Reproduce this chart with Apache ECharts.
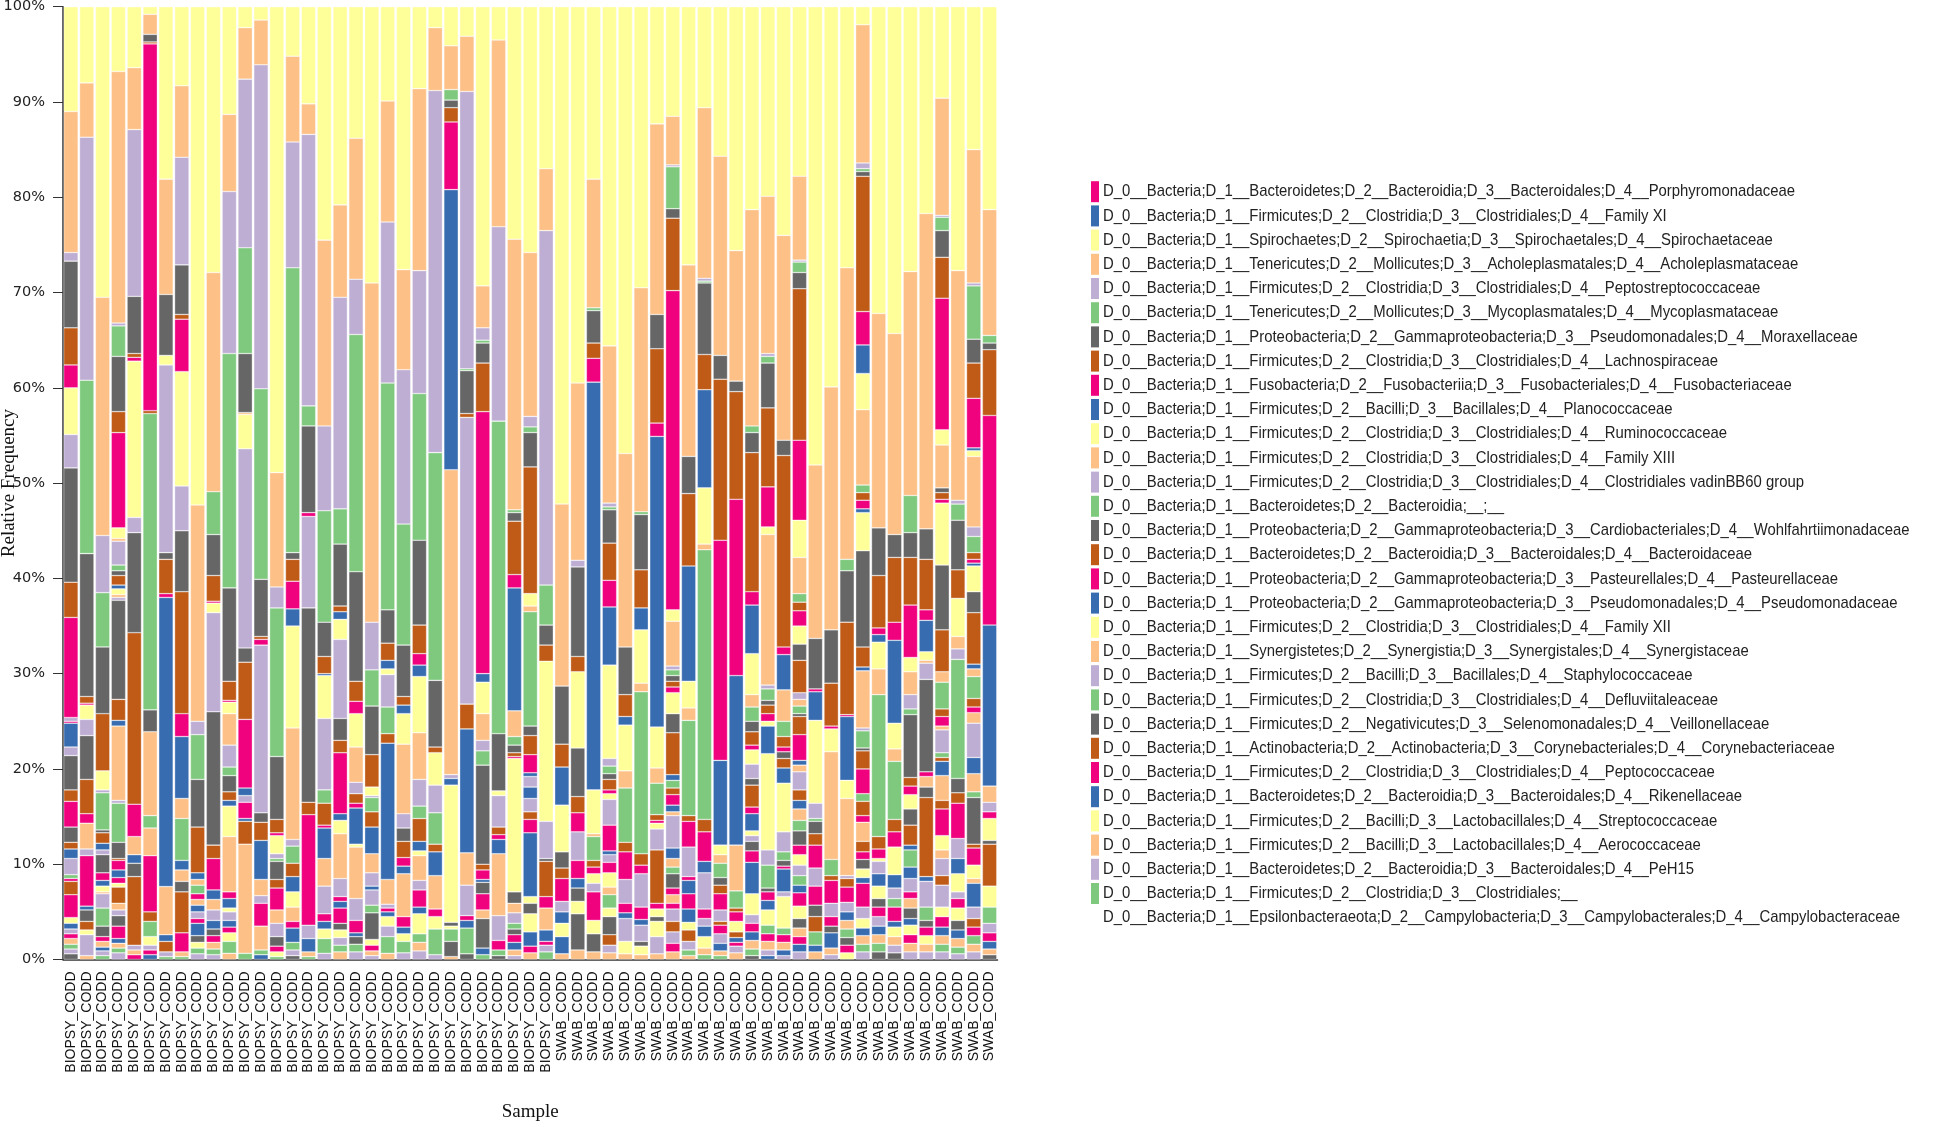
<!DOCTYPE html>
<html>
<head>
<meta charset="utf-8">
<title>Relative frequency by sample</title>
<script src="https://cdn.jsdelivr.net/npm/echarts@6/dist/echarts.min.js"></script>
<style>
  html, body { margin: 0; padding: 0; background: #fff; }
  #chart { width: 1946px; height: 1127px; }
</style>
</head>
<body>
<div id="chart"></div>
<script>
const Y = 0, O = 1, P = 2, G = 3, K = 4, N = 5, M = 6, B = 7;
const colors = ['#ffff99', '#fdc086', '#beaed4', '#7fc97f', '#666666', '#bf5b17', '#f0027f', '#386cb0'];

const taxa = [
  'D_0__Bacteria;D_1__Bacteroidetes;D_2__Bacteroidia;D_3__Bacteroidales;D_4__Porphyromonadaceae',
  'D_0__Bacteria;D_1__Firmicutes;D_2__Clostridia;D_3__Clostridiales;D_4__Family XI',
  'D_0__Bacteria;D_1__Spirochaetes;D_2__Spirochaetia;D_3__Spirochaetales;D_4__Spirochaetaceae',
  'D_0__Bacteria;D_1__Tenericutes;D_2__Mollicutes;D_3__Acholeplasmatales;D_4__Acholeplasmataceae',
  'D_0__Bacteria;D_1__Firmicutes;D_2__Clostridia;D_3__Clostridiales;D_4__Peptostreptococcaceae',
  'D_0__Bacteria;D_1__Tenericutes;D_2__Mollicutes;D_3__Mycoplasmatales;D_4__Mycoplasmataceae',
  'D_0__Bacteria;D_1__Proteobacteria;D_2__Gammaproteobacteria;D_3__Pseudomonadales;D_4__Moraxellaceae',
  'D_0__Bacteria;D_1__Firmicutes;D_2__Clostridia;D_3__Clostridiales;D_4__Lachnospiraceae',
  'D_0__Bacteria;D_1__Fusobacteria;D_2__Fusobacteriia;D_3__Fusobacteriales;D_4__Fusobacteriaceae',
  'D_0__Bacteria;D_1__Firmicutes;D_2__Bacilli;D_3__Bacillales;D_4__Planococcaceae',
  'D_0__Bacteria;D_1__Firmicutes;D_2__Clostridia;D_3__Clostridiales;D_4__Ruminococcaceae',
  'D_0__Bacteria;D_1__Firmicutes;D_2__Clostridia;D_3__Clostridiales;D_4__Family XIII',
  'D_0__Bacteria;D_1__Firmicutes;D_2__Clostridia;D_3__Clostridiales;D_4__Clostridiales vadinBB60 group',
  'D_0__Bacteria;D_1__Bacteroidetes;D_2__Bacteroidia;__;__',
  'D_0__Bacteria;D_1__Proteobacteria;D_2__Gammaproteobacteria;D_3__Cardiobacteriales;D_4__Wohlfahrtiimonadaceae',
  'D_0__Bacteria;D_1__Bacteroidetes;D_2__Bacteroidia;D_3__Bacteroidales;D_4__Bacteroidaceae',
  'D_0__Bacteria;D_1__Proteobacteria;D_2__Gammaproteobacteria;D_3__Pasteurellales;D_4__Pasteurellaceae',
  'D_0__Bacteria;D_1__Proteobacteria;D_2__Gammaproteobacteria;D_3__Pseudomonadales;D_4__Pseudomonadaceae',
  'D_0__Bacteria;D_1__Firmicutes;D_2__Clostridia;D_3__Clostridiales;D_4__Family XII',
  'D_0__Bacteria;D_1__Synergistetes;D_2__Synergistia;D_3__Synergistales;D_4__Synergistaceae',
  'D_0__Bacteria;D_1__Firmicutes;D_2__Bacilli;D_3__Bacillales;D_4__Staphylococcaceae',
  'D_0__Bacteria;D_1__Firmicutes;D_2__Clostridia;D_3__Clostridiales;D_4__Defluviitaleaceae',
  'D_0__Bacteria;D_1__Firmicutes;D_2__Negativicutes;D_3__Selenomonadales;D_4__Veillonellaceae',
  'D_0__Bacteria;D_1__Actinobacteria;D_2__Actinobacteria;D_3__Corynebacteriales;D_4__Corynebacteriaceae',
  'D_0__Bacteria;D_1__Firmicutes;D_2__Clostridia;D_3__Clostridiales;D_4__Peptococcaceae',
  'D_0__Bacteria;D_1__Bacteroidetes;D_2__Bacteroidia;D_3__Bacteroidales;D_4__Rikenellaceae',
  'D_0__Bacteria;D_1__Firmicutes;D_2__Bacilli;D_3__Lactobacillales;D_4__Streptococcaceae',
  'D_0__Bacteria;D_1__Firmicutes;D_2__Bacilli;D_3__Lactobacillales;D_4__Aerococcaceae',
  'D_0__Bacteria;D_1__Bacteroidetes;D_2__Bacteroidia;D_3__Bacteroidales;D_4__PeH15',
  'D_0__Bacteria;D_1__Firmicutes;D_2__Clostridia;D_3__Clostridiales;__',
  'D_0__Bacteria;D_1__Epsilonbacteraeota;D_2__Campylobacteria;D_3__Campylobacterales;D_4__Campylobacteraceae'
];

const categories = [
  'BIOPSY_CODD', 'BIOPSY_CODD', 'BIOPSY_CODD', 'BIOPSY_CODD', 'BIOPSY_CODD', 'BIOPSY_CODD', 'BIOPSY_CODD', 'BIOPSY_CODD',
  'BIOPSY_CODD', 'BIOPSY_CODD', 'BIOPSY_CODD', 'BIOPSY_CODD', 'BIOPSY_CODD', 'BIOPSY_CODD', 'BIOPSY_CODD', 'BIOPSY_CODD',
  'BIOPSY_CODD', 'BIOPSY_CODD', 'BIOPSY_CODD', 'BIOPSY_CODD', 'BIOPSY_CODD', 'BIOPSY_CODD', 'BIOPSY_CODD', 'BIOPSY_CODD',
  'BIOPSY_CODD', 'BIOPSY_CODD', 'BIOPSY_CODD', 'BIOPSY_CODD', 'BIOPSY_CODD', 'BIOPSY_CODD', 'BIOPSY_CODD',
  'SWAB_CODD', 'SWAB_CODD', 'SWAB_CODD', 'SWAB_CODD', 'SWAB_CODD', 'SWAB_CODD', 'SWAB_CODD', 'SWAB_CODD',
  'SWAB_CODD', 'SWAB_CODD', 'SWAB_CODD', 'SWAB_CODD', 'SWAB_CODD', 'SWAB_CODD', 'SWAB_CODD', 'SWAB_CODD',
  'SWAB_CODD', 'SWAB_CODD', 'SWAB_CODD', 'SWAB_CODD', 'SWAB_CODD', 'SWAB_CODD', 'SWAB_CODD', 'SWAB_CODD',
  'SWAB_CODD', 'SWAB_CODD', 'SWAB_CODD', 'SWAB_CODD'
];

const yTicks = [0, 10, 20, 30, 40, 50, 60, 70, 80, 90, 100];

// one list per sample, top of the bar first: [colour, lower edge in %]
const s00 = [[Y,89],[O,74.2],[P,73.3],[K,66.3],[N,62.4],[M,60],[Y,55.1],[P,51.6],[K,39.6],[N,35.9],[M,25.4],[P,25.0],[M,24.8],[B,22.3],[P,21.4],[K,17.8],[N,16.6],[M,13.9],[K,12.3],[N,11.6],[B,10.6],[P,8.9],[G,8.5],[M,8.2],[N,6.8],[M,4.4],[Y,3.8],[B,3.2],[P,2.7],[M,2.2],[O,1.6],[G,1.1],[P,0.6],[K,0]];
const s01 = [[Y,92],[O,86.3],[P,60.8],[G,42.6],[K,27.6],[N,26.9],[M,26.7],[Y,25.2],[P,23.5],[K,18.9],[N,15.3],[M,14.3],[O,11.6],[P,10.9],[M,5.6],[B,5.2],[K,4.0],[N,3.1],[Y,2.6],[P,0.4],[O,0]];
const s02 = [[Y,69.5],[O,44.5],[P,38.5],[G,32.8],[K,25.8],[N,19.8],[Y,17.8],[P,17.5],[G,13.6],[K,13.3],[N,12.2],[B,11.5],[P,11.0],[K,9.1],[M,8.3],[B,7.7],[Y,7.1],[O,6.9],[P,5.4],[G,3.5],[K,2.4],[M,1.9],[O,1.3],[B,0.9],[P,0.4],[G,0]];
const s03 = [[Y,93.2],[O,66.8],[P,66.5],[G,63.3],[K,57.5],[N,55.3],[M,45.3],[Y,44.2],[O,43.9],[P,41.4],[G,40.8],[K,40.3],[N,39.3],[B,38.9],[Y,38.3],[O,38.0],[P,37.7],[K,27.3],[N,25.1],[B,24.5],[O,16.7],[P,16.4],[G,12.3],[K,10.6],[N,10.4],[M,9.4],[B,8.6],[M,8.0],[Y,7.6],[N,5.9],[O,5.2],[P,4.6],[K,3.5],[M,2.2],[B,1.7],[O,1.2],[G,0.7],[P,0]];
const s04 = [[Y,93.6],[O,87.1],[P,69.6],[K,63.6],[N,63.2],[M,62.8],[Y,46.4],[P,44.8],[K,34.3],[N,16.3],[M,12.9],[O,11.0],[B,10.1],[K,8.7],[N,1.5],[P,1.0],[O,0.5],[M,0]];
const s05 = [[Y,99.2],[O,97.1],[K,96.3],[N,96.1],[M,57.6],[N,57.3],[G,26.2],[K,23.9],[O,15.1],[G,13.8],[O,10.9],[M,5.0],[N,4.0],[G,2.4],[Y,1.5],[P,1.0],[M,0.5],[B,0]];
const s06 = [[Y,81.9],[O,69.8],[K,63.4],[Y,62.4],[P,42.7],[K,42.0],[N,38.4],[M,38.0],[B,7.65],[O,2.6],[B,1.9],[N,0.8],[P,0.3],[G,0]];
const s07 = [[Y,91.7],[O,84.2],[P,72.9],[K,67.7],[N,67.2],[M,61.7],[Y,49.7],[P,45.0],[K,38.6],[N,25.8],[M,23.4],[B,16.9],[O,14.8],[G,10.4],[B,9.4],[O,8.2],[K,7.1],[N,2.8],[M,0.8],[O,0.3],[G,0]];
const s08 = [[Y,47.7],[O,25.0],[P,23.6],[G,18.9],[K,13.9],[N,9.1],[B,8.4],[O,7.8],[G,6.9],[M,6.3],[O,5.7],[B,5.0],[P,4.3],[M,3.8],[B,2.5],[K,1.8],[Y,1.2],[G,0.6],[P,0]];
const s09 = [[Y,72.1],[O,49.1],[G,44.6],[K,40.3],[N,37.6],[M,37.4],[Y,36.4],[P,26.0],[K,12.0],[N,10.6],[M,7.3],[B,6.3],[O,5.2],[P,4.1],[B,3.2],[K,2.5],[M,1.8],[O,1.1],[G,0.5],[P,0]];
const s10 = [[Y,88.7],[O,80.6],[P,63.6],[G,39.0],[K,29.2],[N,27.2],[M,27.0],[Y,25.8],[O,22.5],[P,20.2],[G,19.3],[K,17.6],[N,16.7],[B,16.1],[Y,12.9],[O,7.1],[M,6.4],[B,5.4],[Y,5.0],[P,4.1],[B,3.4],[M,2.8],[Y,1.9],[G,0.65],[O,0]];
const s11 = [[Y,97.8],[O,92.4],[P,74.7],[G,63.6],[K,57.4],[O,57.2],[Y,53.6],[P,32.7],[K,31.2],[N,25.2],[M,18.0],[B,17.2],[P,16.5],[M,14.8],[B,14.5],[N,12.1],[O,0.65],[G,0]];
const s12 = [[Y,98.6],[O,93.9],[P,59.9],[G,39.9],[K,33.9],[N,33.6],[M,33.0],[P,15.4],[K,14.4],[N,12.5],[B,8.4],[O,6.7],[P,5.9],[M,3.5],[O,1.0],[G,0.5],[B,0]];
const s13 = [[Y,51.1],[O,39.1],[P,36.9],[G,21.3],[K,14.7],[N,13.3],[M,13.0],[Y,11.1],[P,10.6],[G,10.3],[K,8.4],[N,7.5],[M,5.2],[O,3.8],[P,2.4],[K,1.4],[M,0.8],[Y,0.3],[G,0]];
const s14 = [[Y,94.8],[O,85.8],[P,72.6],[G,42.7],[K,42.0],[N,39.7],[M,36.8],[B,35.0],[Y,24.3],[O,12.6],[P,11.9],[G,10.1],[N,8.7],[B,7.1],[Y,5.5],[O,4.0],[M,3.3],[B,1.8],[G,1.0],[P,0.4],[K,0]];
const s15 = [[Y,89.8],[O,86.6],[P,58.1],[G,56.0],[K,46.9],[M,46.5],[P,36.9],[K,16.5],[N,15.2],[M,3.6],[P,2.2],[B,0.8],[O,0.3],[G,0]];
const s16 = [[Y,75.5],[O,56.0],[P,47.1],[G,35.4],[K,31.8],[N,30.0],[B,29.8],[Y,25.3],[P,17.8],[G,16.4],[N,14.1],[M,13.8],[B,10.6],[O,7.7],[P,4.8],[M,4.0],[B,3.2],[Y,2.2],[G,0.65],[P,0]];
const s17 = [[Y,79.2],[O,69.5],[P,47.3],[G,43.6],[K,37.1],[N,36.5],[B,35.7],[Y,33.6],[P,25.3],[K,23.0],[N,21.7],[M,15.3],[B,14.6],[Y,13.2],[O,8.5],[P,6.6],[M,6.1],[B,5.4],[M,3.8],[K,3.1],[Y,2.3],[P,1.5],[G,0.8],[O,0]];
const s18 = [[Y,86.2],[O,71.4],[P,65.6],[G,40.7],[K,29.2],[N,27.1],[M,25.8],[Y,22.3],[O,18.6],[P,17.4],[N,16.4],[M,15.9],[B,12.1],[Y,11.8],[O,6.4],[P,4.1],[M,2.8],[B,2.4],[K,1.6],[G,0.8],[P,0]];
const s19 = [[Y,71.0],[O,35.4],[P,30.4],[G,26.6],[K,21.5],[N,18.1],[Y,17.2],[P,17.0],[G,15.5],[N,13.9],[B,11.1],[O,9.1],[P,7.7],[B,7.3],[P,5.7],[G,4.9],[K,2.1],[Y,1.5],[M,0.9],[O,0.4],[P,0]];
const s20 = [[Y,90.1],[O,77.4],[P,60.5],[G,36.7],[K,33.2],[N,31.4],[B,30.5],[Y,29.9],[P,26.5],[G,23.7],[N,22.7],[B,8.4],[O,5.8],[P,5.4],[M,5.0],[B,4.5],[Y,3.5],[P,2.4],[G,0.65],[O,0]];
const s21 = [[Y,72.4],[O,61.9],[P,45.7],[G,33.0],[K,27.6],[N,26.7],[B,25.8],[Y,22.6],[O,15.3],[P,13.8],[K,12.4],[N,10.7],[M,9.8],[B,9.0],[O,4.5],[M,3.4],[B,2.7],[Y,1.9],[G,0.7],[P,0]];
const s22 = [[Y,91.4],[O,72.3],[P,59.4],[G,44.0],[K,35.1],[N,32.1],[M,30.9],[B,29.7],[Y,23.8],[O,18.9],[P,16.1],[G,14.8],[N,12.4],[B,11.4],[Y,10.9],[O,8.3],[P,7.3],[M,5.5],[B,4.8],[Y,2.7],[G,1.8],[O,0.9],[P,0]];
const s23 = [[Y,97.8],[O,91.2],[P,53.2],[G,29.3],[K,22.3],[N,21.7],[Y,18.3],[P,15.4],[G,12.1],[N,11.3],[B,8.8],[O,5.3],[M,4.5],[Y,3.2],[G,0.5],[P,0]];
const s24 = [[Y,95.9],[O,91.3],[G,90.2],[K,89.4],[N,87.9],[M,80.8],[B,51.4],[O,19.4],[P,19.0],[B,18.3],[Y,3.9],[K,3.5],[Y,3.2],[G,1.9],[K,0.3],[O,0]];
const s25 = [[Y,96.9],[O,91.1],[P,62.0],[G,61.8],[K,57.3],[N,56.9],[P,26.8],[N,24.2],[B,11.2],[O,7.8],[P,4.6],[M,4.1],[B,3.3],[G,0.6],[K,0]];
const s26 = [[Y,70.7],[O,66.3],[P,65.0],[G,64.7],[K,62.6],[N,57.5],[M,30.0],[B,29.1],[Y,25.8],[O,23.0],[P,21.9],[G,20.4],[K,10.0],[N,9.4],[M,8.4],[B,8.1],[K,6.9],[M,5.2],[O,4.3],[K,1.2],[B,0.5],[G,0]];
const s27 = [[Y,96.5],[O,76.9],[P,56.5],[G,23.7],[K,17.7],[Y,17.2],[P,13.9],[N,13.1],[M,12.6],[B,11.1],[O,4.6],[P,2.0],[M,1.0],[G,0.4],[K,0]];
const s28 = [[Y,75.6],[O,47.2],[G,46.9],[K,46.0],[N,40.4],[M,39.0],[B,26.1],[O,23.4],[G,22.5],[K,21.7],[N,21.3],[M,21.1],[Y,7.1],[K,5.9],[O,4.9],[P,3.8],[G,3.2],[K,2.6],[M,1.8],[B,1.0],[O,0.4],[P,0]];
const s29 = [[Y,74.2],[O,57.0],[P,55.9],[G,55.3],[K,51.7],[N,38.4],[Y,37.1],[O,36.5],[G,24.5],[K,23.5],[N,21.5],[M,19.6],[B,19.2],[P,18.1],[B,16.9],[P,15.5],[N,14.7],[M,13.3],[B,6.6],[Y,5.9],[K,4.8],[Y,2.9],[B,1.4],[M,0.7],[O,0]];
const s30 = [[Y,83.0],[O,76.5],[P,39.3],[G,35.1],[K,33.0],[N,31.3],[Y,14.5],[P,10.6],[K,10.3],[N,6.6],[M,5.4],[O,3.1],[B,1.9],[M,1.5],[P,0.8],[G,0]];
const s31 = [[Y,47.8],[O,28.7],[K,22.6],[N,20.2],[B,16.2],[Y,11.3],[K,9.6],[N,8.5],[M,6.1],[P,5.0],[B,3.8],[Y,2.4],[B,0.6],[O,0]];
const s32 = [[Y,60.5],[O,41.9],[P,41.2],[K,31.8],[N,30.2],[Y,22.2],[K,17.1],[N,15.4],[M,13.4],[P,10.4],[M,8.5],[B,7.5],[K,6.1],[Y,4.8],[K,1.0],[O,0]];
const s33 = [[Y,81.9],[O,68.4],[G,68.1],[K,64.7],[N,63.1],[M,60.6],[B,17.8],[Y,13.2],[O,12.9],[G,10.4],[N,9.7],[M,9.0],[Y,8.0],[P,7.1],[M,4.1],[Y,2.7],[K,0.8],[O,0]];
const s34 = [[Y,64.4],[O,47.9],[P,47.5],[G,47.2],[K,43.7],[N,39.8],[M,37.0],[B,30.9],[Y,21.1],[P,20.3],[G,19.5],[K,18.9],[N,17.8],[M,17.4],[Y,16.8],[P,14.1],[M,11.4],[B,11.0],[P,10.2],[M,9.1],[Y,7.6],[O,6.8],[G,5.4],[Y,4.5],[K,2.6],[N,1.5],[P,0.7],[O,0]];
const s35 = [[Y,53.1],[O,32.8],[K,27.8],[N,25.5],[B,24.6],[Y,19.8],[O,18.0],[G,12.3],[N,11.3],[M,8.4],[P,5.9],[M,4.9],[B,4.3],[P,1.9],[Y,0.6],[O,0]];
const s36 = [[Y,70.5],[O,47.0],[G,46.7],[K,40.9],[N,36.9],[B,34.6],[Y,29.0],[O,28.1],[G,11.1],[N,9.9],[M,9.0],[P,5.5],[M,4.2],[B,3.6],[P,1.9],[K,1.4],[Y,0.5],[O,0]];
const s37 = [[Y,87.7],[O,67.7],[K,64.1],[N,56.3],[M,54.9],[B,24.4],[Y,20.1],[O,18.5],[G,15.2],[N,14.6],[M,14.3],[Y,13.7],[P,11.5],[N,5.9],[M,5.3],[Y,4.5],[K,4.0],[Y,2.4],[P,0.6],[O,0]];
const s38 = [[Y,88.5],[O,83.4],[P,83.2],[G,78.8],[K,77.8],[N,70.2],[M,36.7],[Y,35.5],[O,30.8],[P,30.4],[G,29.8],[K,29.2],[N,28.6],[M,28.0],[Y,25.8],[K,23.8],[N,19.4],[B,18.8],[G,18.0],[N,17.3],[M,16.2],[B,15.5],[O,15.1],[P,11.7],[B,10.6],[O,9.7],[G,9.0],[K,7.5],[M,6.8],[O,5.9],[M,5.3],[P,4.0],[N,2.9],[P,1.7],[M,0.8],[O,0]];
const s39 = [[Y,72.9],[O,52.8],[K,48.9],[N,41.3],[B,29.2],[Y,26.4],[O,25.1],[G,15.1],[N,14.5],[M,11.8],[P,8.7],[M,8.3],[B,6.9],[M,5.3],[B,3.9],[Y,3.1],[N,1.9],[P,1.0],[G,0.4],[O,0]];
const s40 = [[Y,89.4],[O,71.5],[P,71.2],[G,71.0],[K,63.5],[N,59.8],[B,49.5],[Y,43.6],[O,43.0],[G,14.7],[N,13.4],[M,10.3],[B,9.1],[P,5.3],[M,4.3],[P,3.5],[B,2.4],[Y,1.2],[O,0.5],[G,0]];
const s41 = [[Y,84.3],[O,63.4],[K,60.9],[N,44.0],[M,20.9],[B,12.0],[Y,11.0],[O,10.1],[G,8.6],[K,7.8],[N,6.9],[M,5.2],[P,4.0],[N,3.6],[M,2.7],[P,1.7],[B,0.9],[O,0.4],[G,0]];
const s42 = [[Y,74.4],[O,60.7],[K,59.6],[N,48.3],[M,29.8],[B,12.0],[O,7.2],[G,5.4],[N,5.0],[M,4.0],[Y,2.9],[N,2.3],[B,1.8],[M,1.4],[P,0.7],[O,0]];
const s43 = [[Y,78.7],[O,56.0],[G,55.3],[K,53.2],[N,38.6],[M,37.2],[B,32.1],[Y,27.8],[O,26.5],[G,25.0],[K,23.9],[N,22.5],[M,22.0],[Y,20.5],[P,19.0],[K,18.3],[N,16.0],[M,15.3],[B,13.5],[Y,13.0],[P,12.4],[K,11.4],[M,10.2],[B,6.9],[Y,4.7],[P,3.8],[M,2.9],[B,2.0],[O,1.1],[G,0.4],[K,0]];
const s44 = [[Y,80.1],[O,63.6],[P,63.3],[G,62.6],[K,57.9],[N,49.6],[M,45.4],[Y,44.6],[O,28.8],[P,28.4],[G,27.2],[K,26.7],[N,25.8],[M,25.0],[Y,24.5],[B,21.6],[Y,11.5],[P,9.9],[G,7.5],[K,7.1],[M,6.2],[B,5.2],[Y,3.6],[G,2.7],[M,1.9],[O,1.0],[P,0.4],[B,0]];
const s45 = [[Y,76.0],[O,54.5],[K,52.9],[N,32.8],[M,32.0],[B,28.3],[O,25.0],[G,23.4],[N,22.3],[M,21.8],[K,21.1],[N,20.1],[B,18.5],[Y,13.4],[P,11.3],[G,10.4],[K,9.8],[M,9.5],[B,7.1],[P,6.6],[Y,3.3],[G,2.6],[M,1.8],[O,1.0],[B,0.4],[P,0]];
const s46 = [[Y,82.2],[O,73.4],[P,73.2],[G,72.1],[K,70.4],[N,54.5],[M,46.1],[Y,42.2],[O,38.4],[G,37.5],[N,36.6],[M,35.0],[Y,33.1],[K,31.4],[N,28.0],[P,27.3],[O,26.6],[G,25.8],[K,25.5],[N,23.6],[M,20.9],[B,20.4],[O,19.7],[P,17.8],[N,16.7],[B,15.8],[O,14.6],[G,13.5],[K,12.0],[M,11.0],[Y,9.9],[P,8.8],[G,7.8],[B,7.0],[M,5.6],[Y,4.3],[K,3.3],[O,2.4],[M,1.6],[B,0.8],[P,0]];
const s47 = [[Y,51.9],[O,33.7],[K,28.4],[M,28.1],[B,25.1],[Y,16.4],[P,14.8],[G,14.5],[K,13.2],[N,12.0],[M,9.6],[P,7.7],[M,5.7],[K,4.5],[N,2.9],[G,1.5],[B,0.8],[O,0]];
const s48 = [[Y,60.1],[O,34.6],[K,29.0],[N,24.5],[M,24.2],[Y,21.8],[O,10.5],[G,8.8],[N,8.3],[M,5.9],[P,4.5],[M,3.5],[K,2.8],[B,1.2],[O,0.5],[P,0]];
const s49 = [[Y,72.6],[O,42.0],[G,40.8],[K,35.4],[N,25.7],[M,25.5],[B,18.8],[Y,16.9],[O,8.8],[P,8.5],[N,7.6],[M,6.0],[P,5.0],[B,4.1],[O,3.2],[G,2.3],[K,1.5],[M,0.7],[Y,0]];
const s50 = [[Y,98.1],[O,83.6],[P,83.0],[G,82.7],[K,82.2],[N,68.0],[M,64.5],[B,61.5],[Y,57.7],[O,49.8],[G,49.0],[N,48.2],[M,47.3],[B,46.9],[Y,42.9],[K,32.8],[N,30.7],[B,30.3],[O,24.3],[P,24.0],[G,22.2],[K,21.9],[N,20.0],[M,17.4],[G,16.6],[N,15.1],[M,14.4],[O,12.4],[N,11.3],[M,10.5],[K,9.5],[Y,8.6],[B,8.0],[M,5.5],[P,4.3],[Y,3.3],[B,2.5],[O,1.6],[G,0.8],[P,0]];
const s51 = [[Y,67.8],[O,45.3],[K,40.3],[N,34.8],[M,34.1],[B,33.3],[Y,30.5],[O,27.8],[G,12.9],[N,11.6],[M,10.6],[Y,10.3],[P,9.0],[B,7.7],[Y,6.4],[K,5.5],[M,4.5],[P,3.5],[B,2.6],[O,1.7],[G,0.8],[K,0]];
const s52 = [[Y,65.7],[O,44.6],[K,42.2],[N,35.4],[M,33.5],[B,24.8],[Y,22.1],[O,20.8],[G,14.7],[N,13.4],[M,11.8],[Y,8.9],[B,7.5],[P,6.4],[G,5.5],[M,4.0],[B,3.4],[Y,2.4],[O,1.5],[P,0.7],[K,0]];
const s53 = [[Y,72.2],[O,48.7],[G,44.8],[K,42.2],[N,37.2],[M,31.7],[Y,30.2],[O,27.8],[P,26.3],[G,25.7],[K,19.1],[N,18.2],[M,17.3],[Y,15.8],[K,14.1],[N,12.0],[B,11.5],[G,9.7],[B,8.5],[P,7.1],[M,6.4],[O,5.4],[K,4.3],[B,3.6],[Y,2.6],[M,1.7],[O,0.8],[P,0]];
const s54 = [[Y,78.3],[O,45.2],[K,42.0],[N,36.7],[M,35.6],[B,32.3],[Y,31.4],[O,31.1],[P,29.4],[K,19.7],[M,19.2],[O,18.1],[K,17.0],[N,8.7],[B,8.2],[P,5.5],[G,4.1],[K,3.4],[M,2.5],[Y,1.6],[O,0.8],[P,0]];
const s55 = [[Y,90.4],[O,78.1],[P,77.9],[G,76.5],[K,73.7],[N,69.4],[M,55.6],[Y,54.0],[O,49.5],[K,49.0],[N,48.3],[M,47.9],[Y,41.4],[K,34.6],[N,30.2],[O,29.1],[G,26.3],[N,25.5],[M,24.5],[O,24.1],[P,21.7],[G,21.2],[N,20.8],[B,19.3],[O,16.7],[N,15.8],[M,13.0],[Y,11.5],[O,10.6],[P,8.8],[N,7.8],[P,5.5],[Y,4.5],[M,3.4],[B,2.5],[O,1.6],[G,0.8],[P,0]];
const s56 = [[Y,72.3],[O,48.2],[P,47.8],[G,46.1],[K,40.9],[N,37.9],[Y,33.9],[O,32.6],[P,31.5],[G,19.0],[K,17.5],[N,16.4],[M,12.7],[P,10.6],[B,9.0],[Y,7.1],[P,6.4],[M,5.4],[Y,4.1],[K,3.1],[B,2.2],[O,1.3],[G,0.6],[P,0]];
const s57 = [[Y,85.0],[O,71.0],[P,70.7],[G,65.1],[K,62.6],[N,58.9],[M,53.7],[B,53.4],[Y,52.8],[O,45.4],[P,44.4],[G,42.7],[N,42.0],[M,41.6],[B,41.3],[Y,38.6],[K,36.4],[N,31.0],[B,30.5],[O,29.7],[G,27.4],[N,26.5],[M,25.9],[O,24.8],[P,21.2],[B,19.5],[O,17.6],[G,17.0],[K,12.1],[N,11.7],[M,9.9],[Y,8.5],[O,8.0],[B,5.5],[P,4.3],[N,3.4],[M,2.5],[G,1.6],[O,0.8],[P,0]];
const s58 = [[Y,78.7],[O,65.5],[G,64.7],[K,64.0],[N,57.1],[M,35.1],[B,18.2],[O,16.5],[P,15.5],[M,14.8],[Y,12.5],[K,12.1],[N,7.7],[Y,5.5],[G,3.8],[P,2.8],[M,1.9],[B,1.1],[O,0.5],[K,0]];

const bars = [s00, s01, s02, s03, s04, s05, s06, s07, s08, s09, s10, s11, s12, s13, s14, s15, s16, s17, s18, s19,
  s20, s21, s22, s23, s24, s25, s26, s27, s28, s29, s30, s31, s32, s33, s34, s35, s36, s37, s38, s39,
  s40, s41, s42, s43, s44, s45, s46, s47, s48, s49, s50, s51, s52, s53, s54, s55, s56, s57, s58];

// every bar shares one stack order: layer s has colour s % 8.
// walk each sample's segments top-down and drop each into the next layer of its colour
const layers = [];
bars.forEach((segs, i) => {
  let p = 0, upper = 100;
  segs.forEach(([c, lower]) => {
    const s = p + ((c - (p % 8)) + 8) % 8;
    if (!layers[s]) layers[s] = new Array(bars.length).fill('-');
    layers[s][i] = +(upper - lower).toFixed(2);
    upper = lower;
    p = s + 1;
  });
});

function layerName(s) {
  if (s <= 28) return taxa[s + 2];
  if (s === 30) return taxa[0];
  if (s === 31) return taxa[1];
  return 'Other';
}

const series = [];
for (let s = layers.length - 1; s >= 0; s--) {
  if (!layers[s]) continue;
  series.push({
    type: 'bar',
    name: layerName(s),
    stack: 'all',
    barCategoryGap: '9%',
    data: layers[s],
    itemStyle: { color: colors[s % 8], borderColor: 'rgba(255,255,255,0.55)', borderWidth: 0.6 }
  });
}

// legend on the right; the original text is slightly condensed, so squeeze it to the same width
const LEG_FONT = '"Liberation Sans", Arial, sans-serif';
const measure = document.createElement('canvas').getContext('2d');
measure.font = '17px ' + LEG_FONT;
const legScale = 692 / measure.measureText(taxa[0]).width;

const legend = [];
taxa.forEach((t, k) => {
  const y = 191.7 + k * 24.2;
  if (k < 30) {
    legend.push({
      type: 'rect', shape: { x: 1091, y: y - 10.5, width: 8, height: 21 },
      style: { fill: colors[((k - 2) % 8 + 8) % 8] }, silent: true
    });
  }
  legend.push({
    type: 'text', x: 1103, y: y, scaleX: legScale, silent: true,
    style: { text: t, fontSize: 17, fontFamily: LEG_FONT, fill: '#222', verticalAlign: 'middle', align: 'left' }
  });
});

const chart = echarts.init(document.getElementById('chart'));
chart.setOption({
  animation: false,
  backgroundColor: '#fff',
  grid: { left: 63, right: 948.5, top: 6.7, bottom: 167.5, containLabel: false, outerBoundsMode: 'none' },
  xAxis: {
    type: 'category',
    data: categories,
    name: 'Sample',
    nameLocation: 'middle',
    nameGap: 143,
    nameMoveOverlap: false,
    nameTextStyle: { fontFamily: 'Liberation Serif', fontSize: 19, color: '#111' },
    axisLine: { lineStyle: { color: '#333', width: 1.5 } },
    axisTick: { alignWithLabel: true, length: 8, lineStyle: { color: '#333' } },
    axisLabel: { interval: 0, rotate: 90, margin: 12, fontFamily: 'Liberation Sans', fontSize: 14, color: '#111' }
  },
  yAxis: {
    type: 'value',
    min: yTicks[0],
    max: yTicks[yTicks.length - 1],
    interval: 10,
    name: 'Relative Frequency',
    nameLocation: 'middle',
    nameGap: 44,
    nameMoveOverlap: false,
    nameTextStyle: { fontFamily: 'Liberation Serif', fontSize: 19, color: '#111' },
    axisLine: { show: true, lineStyle: { color: '#333', width: 1.5 } },
    axisTick: { show: true, length: 10, lineStyle: { color: '#333' } },
    splitLine: { show: false },
    axisLabel: { formatter: '{value}%', margin: 18, fontFamily: 'DejaVu Sans', fontSize: 14.5, color: '#222' }
  },
  graphic: legend,
  series: series
});
</script>
</body>
</html>
